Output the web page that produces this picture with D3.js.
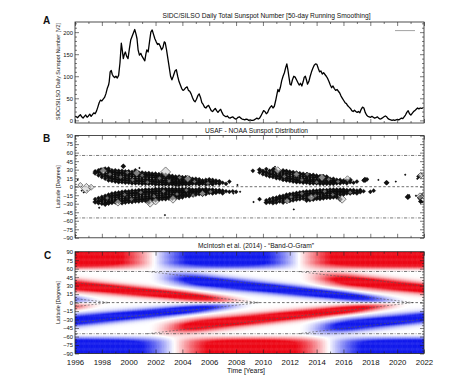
<!DOCTYPE html>
<html><head><meta charset="utf-8">
<script src="https://cdn.jsdelivr.net/npm/d3@7"></script>
<style>
body{margin:0;background:#fff}
svg{display:block}
text{font-family:"Liberation Sans",Arial,Helvetica,sans-serif;fill:#111}
</style>
</head><body>
<svg id="chart" width="474" height="381"></svg>
<script>
// ---------------- DATA ----------------
const yearTicks = [1996,1998,2000,2002,2004,2006,2008,2010,2012,2014,2016,2018,2020,2022];
const ssnTicks = [0,50,100,150,200];
const latTicks = [90,75,60,45,30,15,0,-15,-30,-45,-60,-75,-90];

// SIDC/SILSO 50-day smoothed sunspot number [year, value]
const sunspot = [
[1996.00,9],[1996.10,8],[1996.20,6],[1996.30,10],[1996.40,13],[1996.50,8],[1996.60,5],[1996.70,9],[1996.80,12],[1996.90,7],
[1997.00,10],[1997.10,14],[1997.20,9],[1997.30,13],[1997.40,17],[1997.50,15],[1997.60,21],[1997.70,30],[1997.80,40],[1997.90,46],
[1998.00,44],[1998.10,48],[1998.20,52],[1998.30,60],[1998.40,72],[1998.50,80],[1998.55,88],[1998.62,110],[1998.70,113],[1998.78,104],
[1998.85,100],[1998.95,97],[1999.05,100],[1999.15,96],[1999.25,102],[1999.35,130],[1999.45,175],[1999.52,160],[1999.60,140],[1999.68,150],
[1999.75,155],[1999.85,145],[1999.95,140],[2000.05,162],[2000.15,182],[2000.25,190],[2000.35,198],[2000.45,206],[2000.55,195],[2000.62,185],
[2000.70,160],[2000.80,148],[2000.90,152],[2001.00,145],[2001.10,140],[2001.20,135],[2001.28,150],[2001.35,160],[2001.45,155],[2001.55,178],
[2001.65,200],[2001.75,205],[2001.85,195],[2001.95,185],[2002.05,178],[2002.15,172],[2002.25,174],[2002.35,168],[2002.45,160],[2002.55,165],
[2002.65,178],[2002.72,176],[2002.82,160],[2002.92,140],[2003.02,120],[2003.12,100],[2003.22,92],[2003.32,100],[2003.45,112],[2003.55,115],
[2003.65,100],[2003.75,88],[2003.85,80],[2003.95,72],[2004.05,68],[2004.15,70],[2004.25,74],[2004.35,76],[2004.45,68],[2004.55,66],
[2004.65,60],[2004.75,52],[2004.85,45],[2004.95,42],[2005.05,48],[2005.15,56],[2005.25,60],[2005.35,52],[2005.45,40],[2005.55,36],
[2005.65,30],[2005.75,28],[2005.85,32],[2005.95,34],[2006.05,28],[2006.15,22],[2006.25,20],[2006.35,24],[2006.45,27],[2006.55,22],
[2006.65,18],[2006.75,22],[2006.85,25],[2006.95,18],[2007.05,12],[2007.15,10],[2007.25,8],[2007.35,10],[2007.45,6],[2007.55,5],
[2007.65,7],[2007.75,8],[2007.85,5],[2007.95,3],[2008.05,4],[2008.15,7],[2008.25,8],[2008.35,5],[2008.45,3],[2008.55,2],
[2008.65,1],[2008.75,3],[2008.85,2],[2008.95,0],[2009.05,1],[2009.15,0],[2009.25,0],[2009.35,1],[2009.45,3],[2009.55,5],
[2009.65,3],[2009.75,5],[2009.85,10],[2009.95,16],[2010.05,22],[2010.15,20],[2010.25,15],[2010.35,18],[2010.45,25],[2010.55,30],
[2010.65,33],[2010.75,28],[2010.85,32],[2010.95,45],[2011.05,60],[2011.12,70],[2011.20,65],[2011.30,75],[2011.40,90],[2011.50,100],
[2011.60,108],[2011.70,120],[2011.78,128],[2011.86,115],[2011.94,98],[2012.02,82],[2012.10,80],[2012.20,92],[2012.30,100],[2012.40,98],
[2012.50,92],[2012.60,86],[2012.70,80],[2012.80,84],[2012.90,78],[2013.00,88],[2013.08,98],[2013.16,100],[2013.24,92],[2013.32,82],
[2013.42,88],[2013.52,100],[2013.62,110],[2013.72,118],[2013.82,125],[2013.92,128],[2014.02,127],[2014.12,118],[2014.22,110],[2014.32,112],
[2014.42,105],[2014.52,108],[2014.62,104],[2014.72,100],[2014.82,95],[2014.92,88],[2015.02,80],[2015.12,74],[2015.22,78],[2015.32,72],
[2015.42,68],[2015.52,70],[2015.62,66],[2015.72,62],[2015.82,55],[2015.92,50],[2016.02,45],[2016.12,40],[2016.22,38],[2016.32,33],
[2016.42,30],[2016.52,27],[2016.62,22],[2016.72,20],[2016.82,23],[2016.92,20],[2017.02,18],[2017.12,20],[2017.22,17],[2017.32,25],
[2017.42,30],[2017.52,28],[2017.62,18],[2017.72,12],[2017.82,9],[2017.92,8],[2018.02,7],[2018.12,9],[2018.22,7],[2018.32,5],
[2018.42,6],[2018.52,8],[2018.62,5],[2018.72,3],[2018.82,4],[2018.92,6],[2019.02,8],[2019.12,10],[2019.22,8],[2019.32,4],
[2019.42,2],[2019.52,1],[2019.62,0],[2019.72,1],[2019.82,0],[2019.92,1],[2020.02,2],[2020.12,1],[2020.22,3],[2020.32,5],
[2020.42,4],[2020.52,8],[2020.62,12],[2020.72,18],[2020.82,22],[2020.92,15],[2021.02,12],[2021.12,16],[2021.22,20],[2021.32,22],
[2021.42,25],[2021.52,28],[2021.62,26],[2021.72,28],[2021.82,27],[2021.92,28]
];

// USAF-NOAA sunspot group latitudes: [year, [latitudes]]
const cycle23North = [
[1997.50,[27,24]],[1997.75,[20,26,29]],[1998.00,[17,22,27,30]],[1998.25,[14,19,23,28,31]],[1998.50,[11,16,20,24,28,32]],
[1998.75,[10,14,18,22,26,29]],[1999.00,[9,13,17,21,25,29]],[1999.25,[8,12,16,20,24,28]],[1999.50,[8,12,16,20,24,28]],
[1999.75,[7,11,15,19,23,27]],[2000.00,[7,11,15,19,23,27]],[2000.25,[6,10,14,18,22,26]],[2000.50,[6,10,14,18,22,26,29]],
[2000.75,[6,10,14,18,22,25]],[2001.00,[5,9,13,17,21,25]],[2001.25,[5,9,13,17,21,24]],[2001.50,[5,9,13,17,20,24]],
[2001.75,[5,9,12,16,20,23]],[2002.00,[4,8,12,16,19,23]],[2002.25,[4,8,12,15,19,22]],[2002.50,[4,8,11,15,18,22]],
[2002.75,[4,7,11,14,18,21]],[2003.00,[4,7,10,14,17,20]],[2003.25,[4,7,10,13,16,19]],[2003.50,[3,6,9,12,15,18]],
[2003.75,[3,6,9,12,15,18]],[2004.00,[4,7,10,13,16]],[2004.25,[4,7,10,13,16]],[2004.50,[4,7,10,13,15]],[2004.75,[5,8,11,14]],
[2005.00,[5,8,11,14]],[2005.25,[4,7,10,13]],[2005.50,[5,8,11]],[2005.75,[4,8,12]],[2006.00,[5,9,13]],[2006.25,[4,8,12]],
[2006.50,[6,10]],[2006.75,[5,9]],[2007.00,[7]],[2007.25,[5]],[2007.50,[9]]
];
const cycle23South = [
[1997.50,[-22,-27]],[1997.75,[-20,-25,-29]],[1998.00,[-18,-22,-26,-30]],[1998.25,[-16,-20,-24,-28,-31]],[1998.50,[-14,-18,-22,-26,-29]],
[1998.75,[-12,-16,-20,-24,-28]],[1999.00,[-11,-15,-19,-23,-27]],[1999.25,[-10,-14,-18,-22,-26]],[1999.50,[-9,-13,-17,-21,-25,-29]],
[1999.75,[-8,-12,-16,-20,-24,-28]],[2000.00,[-8,-12,-16,-20,-24,-27]],[2000.25,[-7,-11,-15,-19,-23,-27]],[2000.50,[-7,-11,-15,-19,-23,-26]],
[2000.75,[-6,-10,-14,-18,-22,-26]],[2001.00,[-6,-10,-14,-18,-22,-25]],[2001.25,[-5,-9,-13,-17,-21,-25]],[2001.50,[-5,-9,-13,-17,-21,-24,-28]],
[2001.75,[-5,-9,-12,-16,-20,-24]],[2002.00,[-4,-8,-12,-16,-20,-24]],[2002.25,[-4,-8,-12,-15,-19,-23]],[2002.50,[-4,-8,-11,-15,-19,-22]],
[2002.75,[-4,-7,-11,-14,-18,-22]],[2003.00,[-4,-7,-11,-14,-18,-21]],[2003.25,[-4,-7,-10,-14,-17,-21]],[2003.50,[-4,-7,-10,-13,-17,-20]],
[2003.75,[-4,-7,-10,-13,-16,-20]],[2004.00,[-4,-7,-10,-13,-16,-19]],[2004.25,[-4,-7,-10,-13,-16]],[2004.50,[-4,-7,-10,-13,-16]],
[2004.75,[-5,-8,-11,-14]],[2005.00,[-5,-8,-11,-14]],[2005.25,[-4,-7,-10,-13]],[2005.50,[-5,-8,-11,-14]],[2005.75,[-4,-7,-10,-13]],
[2006.00,[-5,-8,-11]],[2006.25,[-5,-9,-12]],[2006.50,[-6,-10]],[2006.75,[-6,-9]],[2007.00,[-7,-11]],[2007.25,[-8]],
[2007.50,[-9]],[2007.75,[-8]],[2008.00,[-9]]
];
const cycle24North = [
[2009.25,[28]],[2009.75,[25,30]],[2010.00,[22,27]],[2010.25,[20,25,31]],[2010.50,[18,23,28]],[2010.75,[17,21,26,30]],
[2011.00,[15,19,24,28]],[2011.25,[14,18,22,26]],[2011.50,[12,16,20,24,28]],[2011.75,[11,15,19,23,27]],[2012.00,[10,14,18,22,26]],
[2012.25,[9,13,17,21,25]],[2012.50,[8,12,16,20,24]],[2012.75,[8,11,15,19,23]],[2013.00,[7,11,14,18,22]],[2013.25,[7,10,14,17,21]],
[2013.50,[6,10,13,17,20]],[2013.75,[6,9,13,16,20]],[2014.00,[6,9,12,16,19]],[2014.25,[5,9,12,15,18]],[2014.50,[5,8,12,15,18]],
[2014.75,[5,8,11,14,17]],[2015.00,[5,8,11,14]],[2015.25,[5,8,11,14]],[2015.50,[6,9,12]],[2015.75,[6,9,12]],[2016.00,[7,10]],
[2016.25,[6,10]],[2016.50,[8,12]],[2016.75,[7]],[2017.00,[9]],[2017.50,[11]],[2017.75,[13]],[2019.25,[7]]
];
const cycle24South = [
[2009.75,[-22]],[2010.25,[-24,-28]],[2010.50,[-22,-27]],[2010.75,[-20,-25,-29]],[2011.00,[-19,-23,-28]],[2011.25,[-17,-21,-26]],
[2011.50,[-16,-20,-24,-28]],[2011.75,[-14,-18,-22,-26]],[2012.00,[-13,-17,-21,-25]],[2012.25,[-12,-16,-20,-24]],[2012.50,[-11,-15,-19,-23]],
[2012.75,[-10,-14,-18,-22]],[2013.00,[-9,-13,-17,-21]],[2013.25,[-8,-12,-16,-20,-24]],[2013.50,[-8,-12,-15,-19,-23]],
[2013.75,[-7,-11,-15,-19,-22]],[2014.00,[-7,-10,-14,-18,-21]],[2014.25,[-6,-10,-13,-17,-21]],[2014.50,[-6,-9,-13,-16,-20]],
[2014.75,[-6,-9,-12,-16,-19]],[2015.00,[-5,-9,-12,-15,-19]],[2015.25,[-5,-8,-12,-15,-18]],[2015.50,[-5,-8,-11,-14,-18]],
[2015.75,[-5,-8,-11,-14,-22]],[2016.00,[-5,-8,-11,-14]],[2016.25,[-6,-9,-12]],[2016.50,[-6,-9,-12]],[2016.75,[-6,-10]],
[2017.00,[-7,-11]],[2017.25,[-6,-9]],[2017.50,[-8]],[2018.00,[-9]],[2018.25,[-7]]
];
// isolated small groups [year, lat]
const strayGroups = [
[1996.2,12],[1996.5,-7],[1996.65,-10],[1996.9,-7],[1997.1,-3],[1997.8,-37],[2002.7,-50],[2012.3,-40],[2010.9,35],[2000.8,33],
[2009.3,-27],[2019.9,9],[2020.6,21],[2021.5,14],[2021.9,-27],[2021.85,-13],[2021.4,-16],[2008.3,-9],[2008.1,3],[2020.9,-15],
[2021.6,-21],[2021.8,23],[2018.6,12],[2007.8,-12]
];
// larger filled groups [year, lat, size]
const largeGroups = [
[1997.9,28,3.2],[1999.6,36,2.8],[2017.6,12,3.2],[2019.2,7,2.8],[2020.8,-18,3.2],[2021.7,-19,3],[2010.8,30,3],[2021.75,-26,2.6],[2021.6,18,2.4]
];
// outlined groups at band edges [year, lat, size]
const openGroups = [
[1996.85,-3,5],[1996.4,3,2.5],[1997.2,-1,3],[2002.75,26,5],[2001.6,-29,4],[1998.1,28,3.5],[1999.2,-28,3.5],[2000.6,24,3.5],
[2003.3,-22,4],[2004.4,14,3.5],[2005.5,-12,3],[2002.0,-26,3.5],[2011.1,29,3.5],[2012.5,22,3],[2013.6,-19,3.5],[2014.4,16,3.5],
[2015.9,-22,4],[2016.3,14,3],[2011.8,-25,3],[2021.75,20,3],[2021.7,-17,3.5]
];
// grey-centred groups inside the dense bands [year, lat]
const innerGroups = [
[1998.6,22],[1999.4,17],[1999.9,25],[2000.3,12],[2001.0,20],[2001.4,8],[2002.3,15],[2003.0,10],
[2003.8,16],[2004.9,9],[2005.9,6],[1998.4,-20],[1999.7,-14],[2000.2,-22],[2000.9,-10],[2001.9,-17],
[2002.6,-8],[2003.6,-13],[2004.3,-6],[2004.8,-15],[2006.1,-9],[2011.6,18],[2012.9,12],[2013.3,22],
[2014.0,8],[2014.9,13],[2015.6,9],[2012.1,-18],[2012.9,-12],[2013.9,-16],[2014.6,-8],[2015.2,-14],[2016.5,-10]
];

// Band-o-gram: band onset year at 55 deg, termination year at equator, northern polarity (+1 red, -1 blue)
const bandStartYears = [1978.3, 1988.2, 2001.4, 2012.6];
const bandEndYears   = [1998.6, 2009.8, 2021.2, 2032.5];
const bandNorthSign  = [-1, 1, -1, 1];
// polar field reversal years
const northReversals = [2001.9, 2012.7];
const southReversals = [2003.4, 2014.9];
const polarLat = 55;

// ---------------- LAYOUT ----------------
const svg = d3.select("#chart");
const L = 75, R = 424;
const x = d3.scaleLinear().domain([1996, 2022]).range([L, R]);
const yA = d3.scaleLinear().domain([-6, 223]).range([123, 22]);
const yB = d3.scaleLinear().domain([-90, 90]).range([237.8, 135.6]);
const yC = d3.scaleLinear().domain([-90, 90]).range([353.5, 251.7]);

function clipFor(id, y) {
  svg.append("clipPath").attr("id", id).append("rect")
    .attr("x", L).attr("y", y.range()[1]).attr("width", R - L).attr("height", y.range()[0] - y.range()[1]);
}
clipFor("clipA", yA); clipFor("clipB", yB); clipFor("clipC", yC);

// ---------------- PANEL C heatmap ----------------
const smooth = (a, b, v) => { const t = Math.max(0, Math.min(1, (v - a) / (b - a))); return t * t * (3 - 2 * t); };
function field(t, lat) {
  let v = 0;
  for (let i = 0; i < bandStartYears.length; i++) {
    const s = bandStartYears[i], e = bandEndYears[i];
    const p = (t - s) / (e - s);
    if (p <= 0 || p >= 1) continue;
    const c = 0.88 * polarLat * (1 - p);
    const sig = 4.2 + 4 * (1 - p);
    const env = smooth(0, 0.22, p) * (1 - smooth(0.72, 1.0, p));
    const n = Math.exp(-((lat - c) ** 2) / (2 * sig * sig));
    const so = Math.exp(-((lat + c) ** 2) / (2 * sig * sig));
    v += env * bandNorthSign[i] * (n - so);
  }
  const a = Math.abs(lat);
  if (a > polarLat) {
    const r = smooth(polarLat, 72, a);
    const tau = 3.0;
    let pv;
    if (lat > 0) pv = Math.tanh((northReversals[0] - t) / tau) * Math.tanh((northReversals[1] - t) / tau);
    else pv = -Math.tanh((southReversals[0] - t) / tau) * Math.tanh((southReversals[1] - t) / tau);
    v += r * pv;
  }
  return v;
}
const redC = d3.rgb(236, 8, 22), blueC = d3.rgb(18, 26, 236);
const toRed = d3.interpolateRgb("#ffffff", redC), toBlue = d3.interpolateRgb("#ffffff", blueC);
function colour(v) {
  const a = Math.min(1, Math.abs(v) * 1.5);
  return v >= 0 ? toRed(a) : toBlue(a);
}
const dt = 0.125, dl = 1.5;
const cells = [];
for (const t of d3.range(1996, 2022, dt)) for (const lat of d3.range(-90, 90, dl)) {
  cells.push({t, lat, v: field(t + dt / 2, lat + dl / 2)});
}
const gC = svg.append("g").attr("clip-path", "url(#clipC)");
gC.selectAll("rect").data(cells).join("rect")
  .attr("x", d => x(d.t)).attr("y", d => yC(d.lat + dl))
  .attr("width", d => x(d.t + dt) - x(d.t) + 0.4)
  .attr("height", d => yC(d.lat) - yC(d.lat + dl) + 0.4)
  .attr("fill", d => colour(d.v));

// diagonal band-centre lines
const diag = [];
bandStartYears.forEach((s, i) => {
  diag.push([[s, polarLat], [bandEndYears[i], 0]]);
  diag.push([[s, -polarLat], [bandEndYears[i], 0]]);
});
gC.selectAll("path.diag").data(diag).join("path").attr("class", "diag")
  .attr("d", d => d3.line().x(p => x(p[0])).y(p => yC(p[1]))(d))
  .attr("fill", "none").attr("stroke", "#555").attr("stroke-width", 0.6).attr("stroke-dasharray", "2,1.6");

// reference lines in B and C
function refLines(g, y) {
  [polarLat, -polarLat].forEach(l => g.append("line").attr("x1", L).attr("x2", R).attr("y1", y(l)).attr("y2", y(l))
    .attr("stroke", "#444").attr("stroke-width", 0.7).attr("stroke-dasharray", "3.2,1.5,0.8,1.5"));
  g.append("line").attr("x1", L).attr("x2", R).attr("y1", y(0)).attr("y2", y(0))
    .attr("stroke", "#333").attr("stroke-width", 0.7).attr("stroke-dasharray", "2.6,2");
}
refLines(gC, yC);

// ---------------- PANEL B scatter ----------------
const gB = svg.append("g").attr("clip-path", "url(#clipB)");
refLines(gB, yB);
const diamond = r => `M0,${-r}L${r},0L0,${r}L${-r},0Z`;
const pts = [];
[cycle23North, cycle23South, cycle24North, cycle24South].forEach(series => {
  series.forEach(([t, lats]) => lats.forEach((lat, j) => pts.push({t, lat, r: j % 3 === 1 ? 2.5 : 2.1})));
});
gB.selectAll("path.pt").data(pts).join("path").attr("class", "pt")
  .attr("transform", d => `translate(${x(d.t)},${yB(d.lat)})`).attr("d", d => diamond(d.r))
  .attr("fill", "#111").attr("stroke", "#000").attr("stroke-width", 0.3);
gB.selectAll("path.inner").data(innerGroups).join("path").attr("class", "inner")
  .attr("transform", d => `translate(${x(d[0])},${yB(d[1])})`).attr("d", diamond(2.2))
  .attr("fill", "#6a6a6a").attr("stroke", "#111").attr("stroke-width", 0.6);
gB.selectAll("path.stray").data(strayGroups).join("path").attr("class", "stray")
  .attr("transform", d => `translate(${x(d[0])},${yB(d[1])})`).attr("d", diamond(1.2)).attr("fill", "#111");
gB.selectAll("path.large").data(largeGroups).join("path").attr("class", "large")
  .attr("transform", d => `translate(${x(d[0])},${yB(d[1])})`).attr("d", d => diamond(d[2])).attr("fill", "#111");
gB.selectAll("path.open").data(openGroups).join("path").attr("class", "open")
  .attr("transform", d => `translate(${x(d[0])},${yB(d[1])})`).attr("d", d => diamond(d[2]))
  .attr("fill", "#d0d0d0").attr("fill-opacity", 0.6).attr("stroke", "#333").attr("stroke-width", 0.6);

// ---------------- PANEL A line ----------------
const gA = svg.append("g").attr("clip-path", "url(#clipA)");
gA.append("path").datum(sunspot)
  .attr("d", d3.line().x(d => x(d[0])).y(d => yA(d[1])))
  .attr("fill", "none").attr("stroke", "#000").attr("stroke-width", 1.3).attr("stroke-linejoin", "round");
svg.append("line").attr("x1", 395).attr("x2", 415).attr("y1", 30.6).attr("y2", 30.6).attr("stroke", "#8a8a8a").attr("stroke-width", 0.8);

// ---------------- AXES / FRAMES ----------------
function frame(y, majors, minors, showX) {
  const top = y.range()[1], bot = y.range()[0];
  const g = svg.append("g");
  const style = sel => { sel.select(".domain").remove(); sel.selectAll("line").attr("stroke", "#222").attr("stroke-width", 0.6); };
  g.append("g").attr("transform", `translate(${L},0)`)
    .call(d3.axisLeft(y).tickValues(majors).tickSizeInner(-4).tickSizeOuter(0).tickPadding(2).tickFormat(d3.format("d")))
    .call(style).call(s => s.selectAll("text").attr("font-size", 5.8).attr("font-family", "Liberation Sans, Arial").attr("fill", "#222"));
  g.append("g").attr("transform", `translate(${L},0)`)
    .call(d3.axisLeft(y).tickValues(minors).tickSizeInner(-2).tickSizeOuter(0).tickFormat("")).call(style);
  g.append("g").attr("transform", `translate(${R},0)`)
    .call(d3.axisRight(y).tickValues(majors).tickSizeInner(-4).tickSizeOuter(0).tickFormat("")).call(style);
  g.append("g").attr("transform", `translate(${R},0)`)
    .call(d3.axisRight(y).tickValues(minors).tickSizeInner(-2).tickSizeOuter(0).tickFormat("")).call(style);
  const minorYears = d3.range(1997, 2022, 2);
  g.append("g").attr("transform", `translate(0,${top})`)
    .call(d3.axisTop(x).tickValues(yearTicks).tickSizeInner(-4).tickSizeOuter(0).tickFormat("")).call(style);
  g.append("g").attr("transform", `translate(0,${top})`)
    .call(d3.axisTop(x).tickValues(minorYears).tickSizeInner(-2).tickSizeOuter(0).tickFormat("")).call(style);
  g.append("g").attr("transform", `translate(0,${bot})`)
    .call(d3.axisBottom(x).tickValues(yearTicks).tickSizeInner(-4).tickSizeOuter(0).tickPadding(6)
      .tickFormat(showX ? d3.format("d") : ""))
    .call(style).call(s => s.selectAll("text").attr("font-size", 7.8).attr("font-family", "Liberation Sans, Arial").attr("fill", "#222"));
  g.append("g").attr("transform", `translate(0,${bot})`)
    .call(d3.axisBottom(x).tickValues(minorYears).tickSizeInner(-2).tickSizeOuter(0).tickFormat("")).call(style);
  g.append("rect").attr("x", L).attr("y", top).attr("width", R - L).attr("height", bot - top)
    .attr("fill", "none").attr("stroke", "#222").attr("stroke-width", 0.8);
}
frame(yA, ssnTicks, d3.range(10, 221, 10).filter(v => v % 50 !== 0), false);
frame(yB, latTicks, d3.range(-85, 90, 5).filter(v => v % 15 !== 0), false);
frame(yC, latTicks, d3.range(-85, 90, 5).filter(v => v % 15 !== 0), true);

// ---------------- TEXT ----------------
function txt(s, xp, yp, size, opts = {}) {
  const t = svg.append("text").attr("x", xp).attr("y", yp).attr("font-size", size).text(s)
    .attr("text-anchor", opts.anchor || "middle");
  if (opts.bold) t.attr("font-weight", "bold");
  if (opts.len) t.attr("textLength", opts.len).attr("lengthAdjust", "spacingAndGlyphs");
  if (opts.rot) t.attr("transform", `rotate(-90,${xp},${yp})`);
  return t;
}
txt("SIDC/SILSO Daily Total Sunspot Number [50-day Running Smoothing]", 266.5, 17.5, 6.8, {len: 208});
txt("USAF - NOAA Sunspot Distribution", 256.5, 132.5, 6.8, {len: 103});
txt("McIntosh et al. (2014) - \u201cBand-O-Gram\u201d", 256, 247.8, 6.8, {len: 116});
txt("A", 43, 23.5, 10, {anchor: "start", bold: true});
txt("B", 43, 142, 10, {anchor: "start", bold: true});
txt("C", 44, 258.5, 10, {anchor: "start", bold: true});
txt("SIDC/SILSO Daily Sunspot Number [V2]", 60, 71.5, 5.8, {rot: true, len: 97});
txt("Latitude [Degrees]", 60, (yB(0)), 5.8, {rot: true, len: 43});
txt("Latitude [Degrees]", 60, (yC(0)), 5.8, {rot: true, len: 43});
txt("Time [Years]", 246, 373, 7.5, {len: 38});
</script>
</body></html>
